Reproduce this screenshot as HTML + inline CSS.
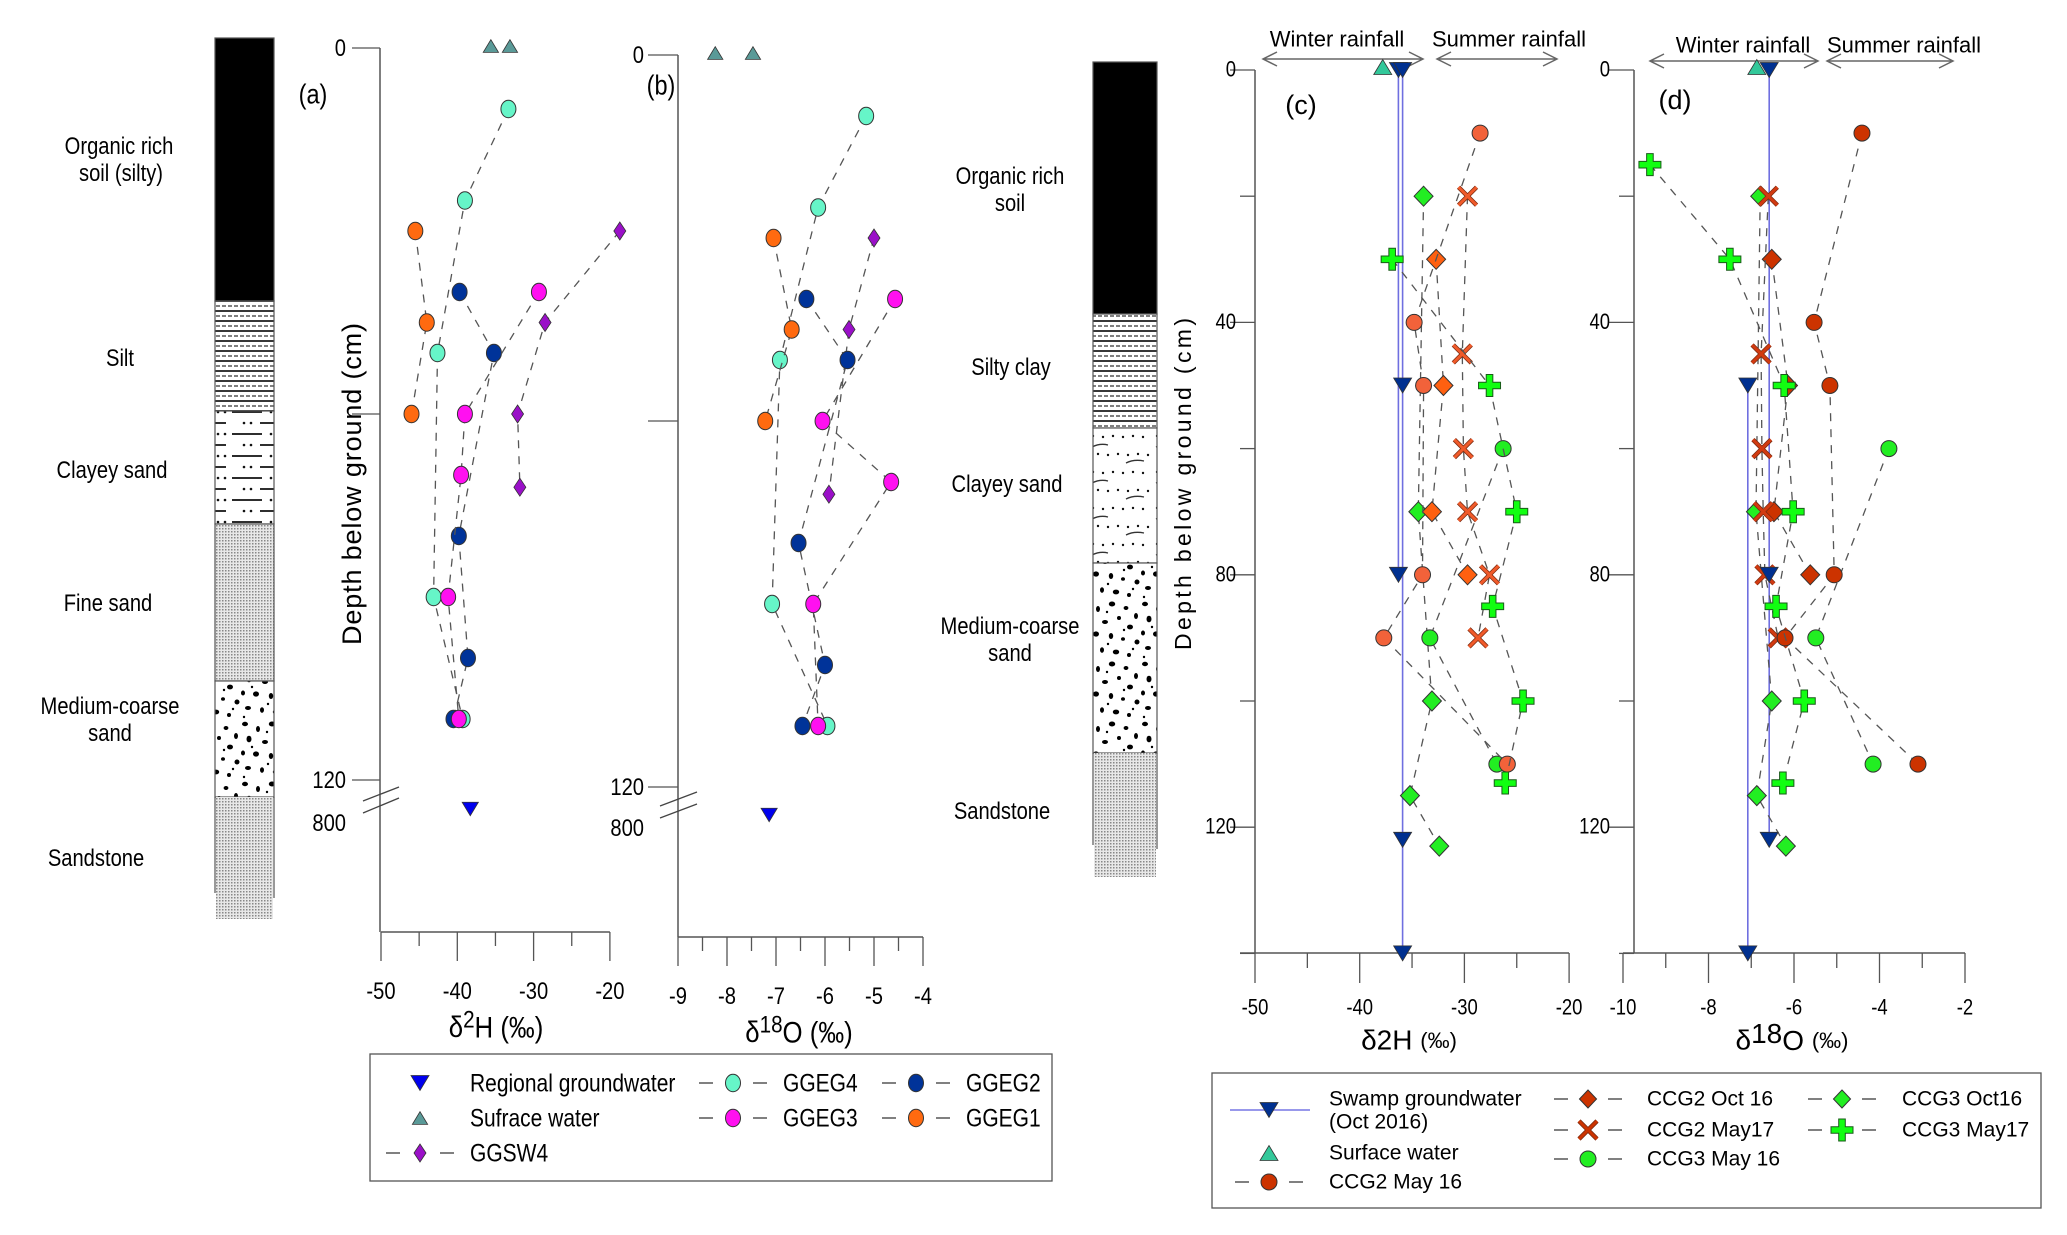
<!DOCTYPE html>
<html><head><meta charset="utf-8">
<style>
html,body{margin:0;padding:0;background:#fff;}
svg{display:block;}
.nar{font-family:"Liberation Sans Narrow","Liberation Sans",sans-serif;}
.reg{font-family:"Liberation Sans",sans-serif;}
</style></head>
<body>
<svg id="chart" xmlns="http://www.w3.org/2000/svg" width="2067" height="1235" viewBox="0 0 2067 1235">
<defs>
<pattern id="pSilt" width="12" height="10" patternUnits="userSpaceOnUse">
<rect width="12" height="10" fill="#fff"/>
<line x1="0" y1="1" x2="12" y2="1" stroke="#222" stroke-width="1.8"/>
<line x1="0" y1="6" x2="12" y2="6" stroke="#333" stroke-width="1.2" stroke-dasharray="4 2"/>
</pattern>
<pattern id="pClayA" width="60" height="22" patternUnits="userSpaceOnUse">
<rect width="60" height="22" fill="#fff"/>
<circle cx="4" cy="5" r="1.3" fill="#111"/><circle cx="11" cy="5" r="1.3" fill="#111"/>
<line x1="20" y1="5" x2="46" y2="5" stroke="#111" stroke-width="1.8"/>
<line x1="0" y1="16" x2="22" y2="16" stroke="#111" stroke-width="1.8"/>
<circle cx="31" cy="16" r="1.3" fill="#111"/><circle cx="38" cy="16" r="1.3" fill="#111"/><circle cx="45" cy="16" r="1.3" fill="#111"/>
<line x1="52" y1="16" x2="60" y2="16" stroke="#111" stroke-width="1.8"/>
</pattern>
<pattern id="pClayM" width="64" height="36" patternUnits="userSpaceOnUse">
<rect width="64" height="36" fill="#fff"/>
<g fill="#111"><circle cx="5" cy="4" r="1.2"/><circle cx="15" cy="5" r="1.2"/><circle cx="25" cy="4" r="1.2"/><circle cx="35" cy="5" r="1.2"/><circle cx="45" cy="4" r="1.2"/><circle cx="55" cy="5" r="1.2"/>
<circle cx="10" cy="22" r="1.2"/><circle cx="20" cy="23" r="1.2"/><circle cx="30" cy="22" r="1.2"/><circle cx="40" cy="23" r="1.2"/><circle cx="50" cy="22" r="1.2"/><circle cx="60" cy="23" r="1.2"/></g>
<path d="M4 15 Q12 11 20 13" stroke="#333" fill="none" stroke-width="1.3"/>
<path d="M38 31 Q46 27 56 29" stroke="#333" fill="none" stroke-width="1.3"/>
</pattern>
<pattern id="pGrey" width="3" height="3" patternUnits="userSpaceOnUse">
<rect width="3" height="3" fill="#e8e8e8"/><rect width="1.5" height="1.5" fill="#888"/>
</pattern>
<pattern id="pCoarse" width="60" height="60" patternUnits="userSpaceOnUse">
<rect width="60" height="60" fill="#fff"/>
<g fill="#000">
<ellipse cx="5" cy="4" rx="3" ry="2.2"/><ellipse cx="18" cy="9" rx="2" ry="3"/><ellipse cx="32" cy="4" rx="3.2" ry="2.5"/><ellipse cx="46" cy="8" rx="2.4" ry="2"/><ellipse cx="56" cy="16" rx="2" ry="3"/>
<ellipse cx="9" cy="19" rx="2.5" ry="3.3"/><ellipse cx="25" cy="22" rx="3" ry="2"/><ellipse cx="39" cy="18" rx="2" ry="2"/><ellipse cx="50" cy="27" rx="3" ry="2.4"/>
<ellipse cx="3" cy="33" rx="2" ry="2.5"/><ellipse cx="16" cy="34" rx="3" ry="2.6"/><ellipse cx="31" cy="36" rx="2.2" ry="3"/><ellipse cx="43" cy="39" rx="2" ry="1.8"/><ellipse cx="57" cy="42" rx="2.5" ry="2.5"/>
<ellipse cx="8" cy="48" rx="3" ry="2"/><ellipse cx="22" cy="50" rx="2" ry="2.8"/><ellipse cx="36" cy="52" rx="3.2" ry="2.4"/><ellipse cx="49" cy="55" rx="2" ry="2"/>
<circle cx="27" cy="12" r="1.2"/><circle cx="12" cy="27" r="1.2"/><circle cx="44" cy="30" r="1.2"/><circle cx="53" cy="49" r="1.2"/><circle cx="28" cy="44" r="1.2"/><circle cx="4" cy="57" r="1.2"/>
</g>
</pattern>
</defs>
</svg>
<script>
// ---------- panel (a)/(b) data: GGEG/GGSW profiles ----------
const depthGGEG4 = [10, 25, 50, 90, 110];
const hGGEG4 = [-33.3, -39.0, -42.6, -43.1, -39.3];
const oGGEG4 = [-5.16, -6.14, -6.92, -7.08, -5.95];
const depthGGEG1 = [30, 45, 60];
const hGGEG1 = [-45.5, -44.0, -46.0];
const oGGEG1 = [-7.05, -6.68, -7.22];
const depthGGEG2 = [40, 50, 80, 100, 110];
const hGGEG2 = [-39.7, -35.2, -39.8, -38.6, -40.5];
const oGGEG2 = [-6.38, -5.54, -6.54, -6.0, -6.46];
const depthGGEG3 = [40, 60, 70, 90, 110];
const hGGEG3 = [-29.3, -39.0, -39.5, -41.2, -39.8];
const oGGEG3 = [-4.57, -6.05, -4.65, -6.24, -6.14];
const depthGGSW4H = [30, 45, 60, 72];
const hGGSW4 = [-18.7, -28.5, -32.1, -31.8];
const depthGGSW4O = [30, 45, 72];
const oGGSW4 = [-5.0, -5.51, -5.92];
const surfH_ab = [-35.6, -33.1];
const surfO_ab = [-8.24, -7.47];
const regionalH = [-38.3];
const regionalO = [-7.14];
const ticksA = [-50, -40, -30, -20];
const ticksB = [-9, -8, -7, -6, -5, -4];

// ---------- panel (c)/(d) data: CCG profiles ----------
const depthCCG2May16 = [10, 40, 50, 80, 90, 110];
const hCCG2May16 = [-28.5, -34.8, -33.9, -34.0, -37.7, -25.9];
const oCCG2May16 = [-4.41, -5.53, -5.16, -5.06, -6.21, -3.10];
const depthCCG2Oct16 = [30, 50, 70, 80];
const hCCG2Oct16 = [-32.7, -32.0, -33.1, -29.7];
const oCCG2Oct16 = [-6.52, -6.14, -6.47, -5.62];
const depthCCG2May17 = [20, 45, 60, 70, 80, 90];
const hCCG2May17 = [-29.7, -30.2, -30.1, -29.7, -27.6, -28.7];
const oCCG2May17 = [-6.60, -6.77, -6.75, -6.72, -6.68, -6.37];
const depthCCG3May16 = [60, 90, 110];
const hCCG3May16 = [-26.3, -33.3, -26.9];
const oCCG3May16 = [-3.78, -5.49, -4.15];
const depthCCG3Oct16 = [20, 70, 100, 115, 123];
const hCCG3Oct16 = [-33.9, -34.4, -33.1, -35.2, -32.4];
const oCCG3Oct16 = [-6.79, -6.89, -6.52, -6.87, -6.19];
const depthCCG3May17H = [30, 50, 70, 85, 100, 113];
const hCCG3May17 = [-36.9, -27.6, -25.0, -27.3, -24.4, -26.1];
const depthCCG3May17O = [15, 30, 50, 70, 85, 100, 113];
const oCCG3May17 = [-9.37, -7.50, -6.23, -6.02, -6.42, -5.76, -6.26];
const surfH_c = [-37.8];
const surfO_d = [-6.87];
const swampDepthC1 = [0, 80];
const swampC1 = [-36.3, -36.3];
const swampDepthC2 = [0, 50, 122, 140];
const swampC2 = [-35.9, -35.9, -35.9, -35.9];
const swampDepthD1 = [0, 80, 122];
const swampD1 = [-6.58, -6.58, -6.58];
const swampDepthD2 = [50, 140];
const swampD2 = [-7.08, -7.08];
const ticksC = [-50, -40, -30, -20];
const ticksD = [-10, -8, -6, -4, -2];
const depthTicksCD = [0, 40, 80, 120];

const NS = 'http://www.w3.org/2000/svg';
const svg = document.getElementById('chart');
function mk(tag, attrs, parent, name, inter) {
  const e = document.createElementNS(NS, tag);
  for (const k in attrs) e.setAttribute(k, attrs[k]);
  
  
  (parent || svg).appendChild(e);
  return e;
}
function txt(x, y, s, size, cls, name, anchor, parent, extra) {
  const a = {x: x, y: y, 'font-size': size, class: cls, 'text-anchor': anchor || 'middle', 'dominant-baseline': 'central', fill: '#000'};
  if (cls === 'nar') { a.x = 0; a.y = 0; a.transform = `translate(${x} ${y}) scale(0.84 1)`; }
  if (extra) for (const k in extra) a[k] = extra[k];
  const t = mk('text', a, parent, name);
  t.textContent = s;
  return t;
}

// scales
const panels = {
  a: {X: v => 381 + (v + 50) * 7.63, Y: d => 48 + d * 6.1},
  b: {X: v => 678 + (v + 9) * 49, Y: d => 55 + d * 6.1},
  c: {X: v => 1255 + (v + 50) * 10.47, Y: d => 70 + d * 6.31},
  d: {X: v => 1623 + (v + 10) * 42.75, Y: d => 70 + d * 6.31}
};
panels.a.Y800 = 809; panels.b.Y800 = 815;

function marker(g, shape, x, y, fill, name, s) {
  s = s || 1;
  const st = '#333';
  if (shape === 'circle') return mk('ellipse', {cx: x, cy: y, rx: 8 * s, ry: 8 * s, fill: fill, stroke: st, 'stroke-width': 1}, g, name);
  if (shape === 'ell') return mk('ellipse', {cx: x, cy: y, rx: 7.5, ry: 8.7, fill: fill, stroke: st, 'stroke-width': 1}, g, name);
  if (shape === 'diamond') { const r = 10 * s; return mk('polygon', {points: `${x},${y-r} ${x+r*0.95},${y} ${x},${y+r} ${x-r*0.95},${y}`, fill: fill, stroke: st, 'stroke-width': 1}, g, name); }
  if (shape === 'sdiamond') { return mk('polygon', {points: `${x},${y-9} ${x+6},${y} ${x},${y+9} ${x-6},${y}`, fill: fill, stroke: st, 'stroke-width': 0.8}, g, name); }
  if (shape === 'tdown') { const w = 9 * s, h = 15 * s; return mk('polygon', {points: `${x-w},${y-h/2} ${x+w},${y-h/2} ${x},${y+h/2}`, fill: fill, stroke: st, 'stroke-width': 0.8}, g, name); }
  if (shape === 'tup') { const w = 9 * s, h = 15 * s; return mk('polygon', {points: `${x-w},${y+h/2} ${x+w},${y+h/2} ${x},${y-h/2}`, fill: fill, stroke: st, 'stroke-width': 0.8}, g, name); }
  if (shape === 'x') {
    const gg = mk('g', {}, g, name);
    const r = 9 * s;
    mk('path', {d: `M${x-r},${y-r}L${x+r},${y+r}M${x-r},${y+r}L${x+r},${y-r}`, stroke: '#7a2a10', 'stroke-width': 4.5, fill: 'none'}, gg, 'x-outline');
    mk('path', {d: `M${x-r},${y-r}L${x+r},${y+r}M${x-r},${y+r}L${x+r},${y-r}`, stroke: fill, 'stroke-width': 3, fill: 'none'}, gg, 'x-stroke');
    return gg;
  }
  if (shape === 'plus') {
    const a = 11 * s, w = 3.3 * s;
    return mk('polygon', {points: `${x-w},${y-a} ${x+w},${y-a} ${x+w},${y-w} ${x+a},${y-w} ${x+a},${y+w} ${x+w},${y+w} ${x+w},${y+a} ${x-w},${y+a} ${x-w},${y+w} ${x-a},${y+w} ${x-a},${y-w} ${x-w},${y-w}`, fill: fill, stroke: '#1a5a1a', 'stroke-width': 1}, g, name);
  }
}
function series(p, depths, vals, shape, fill, name, dashed, markerScale) {
  const P = panels[p];
  const g = mk('g', {}, svg, name);
  if (dashed !== false && depths.length > 1) {
    const pts = depths.map((d, i) => `${P.X(vals[i]).toFixed(1)},${P.Y(d).toFixed(1)}`).join(' ');
    mk('polyline', {points: pts, fill: 'none', stroke: '#555', 'stroke-width': 1.3, 'stroke-dasharray': '8 8'}, g, name + '-line');
  }
  depths.forEach((d, i) => marker(g, shape, P.X(vals[i]), P.Y(d), fill, name + '-point', markerScale));
  return g;
}
function swampLine(p, depths, vals, name) {
  const P = panels[p];
  const pts = depths.map((d, i) => `${P.X(vals[i]).toFixed(1)},${P.Y(d).toFixed(1)}`).join(' ');
  mk('polyline', {points: pts, fill: 'none', stroke: '#6f6fe0', 'stroke-width': 1.6}, svg, name);
}

// ---------- strat columns ----------
function layer(x, y1, w, y2, fill, name) {
  mk('rect', {x: x, y: y1, width: w, height: y2 - y1, fill: fill, stroke: '#555', 'stroke-width': 1.2}, svg, name);
}
layer(215, 38, 59, 301, '#000', 'strat-a-organic-soil');
layer(215, 301, 59, 411, 'url(#pSilt)', 'strat-a-silt');
layer(215, 411, 59, 524, 'url(#pClayA)', 'strat-a-clayey-sand');
layer(215, 524, 59, 681, 'url(#pGrey)', 'strat-a-fine-sand');
layer(215, 681, 59, 797, 'url(#pCoarse)', 'strat-a-medium-coarse-sand');
mk('rect', {x: 216, y: 797, width: 57, height: 122, fill: 'url(#pGrey)'}, svg, 'strat-a-sandstone');
mk('line', {x1: 215, y1: 797, x2: 215, y2: 893, stroke: '#555', 'stroke-width': 1.2}, svg, 'strat-a-sandstone-edge');
mk('line', {x1: 274, y1: 797, x2: 274, y2: 898, stroke: '#555', 'stroke-width': 1.2}, svg, 'strat-a-sandstone-edge');

layer(1093, 62, 64, 314, '#000', 'strat-c-organic-soil');
layer(1093, 314, 64, 428, 'url(#pSilt)', 'strat-c-silty-clay');
layer(1093, 428, 64, 563, 'url(#pClayM)', 'strat-c-clayey-sand');
layer(1093, 563, 64, 753, 'url(#pCoarse)', 'strat-c-medium-coarse-sand');
mk('rect', {x: 1094, y: 753, width: 62, height: 124, fill: 'url(#pGrey)'}, svg, 'strat-c-sandstone');
mk('line', {x1: 1093, y1: 753, x2: 1093, y2: 845, stroke: '#555', 'stroke-width': 1.2}, svg, 'strat-c-sandstone-edge');
mk('line', {x1: 1157, y1: 753, x2: 1157, y2: 849, stroke: '#555', 'stroke-width': 1.2}, svg, 'strat-c-sandstone-edge');

const sl = 24;
txt(119, 146, 'Organic rich', sl, 'nar', 'strat-label-organic');
txt(121, 173, 'soil (silty)', sl, 'nar', 'strat-label-organic');
txt(120, 358, 'Silt', sl, 'nar', 'strat-label-silt');
txt(112, 470, 'Clayey sand', sl, 'nar', 'strat-label-clayey-sand');
txt(108, 603, 'Fine sand', sl, 'nar', 'strat-label-fine-sand');
txt(110, 706, 'Medium-coarse', sl, 'nar', 'strat-label-medium-coarse');
txt(110, 733, 'sand', sl, 'nar', 'strat-label-medium-coarse');
txt(96, 858, 'Sandstone', sl, 'nar', 'strat-label-sandstone');
txt(1010, 176, 'Organic rich', sl, 'nar', 'strat-label-organic-c');
txt(1010, 203, 'soil', sl, 'nar', 'strat-label-organic-c');
txt(1011, 367, 'Silty clay', sl, 'nar', 'strat-label-silty-clay-c');
txt(1007, 484, 'Clayey sand', sl, 'nar', 'strat-label-clayey-sand-c');
txt(1010, 626, 'Medium-coarse', sl, 'nar', 'strat-label-medium-coarse-c');
txt(1010, 653, 'sand', sl, 'nar', 'strat-label-medium-coarse-c');
txt(1002, 811, 'Sandstone', sl, 'nar', 'strat-label-sandstone-c');

// ---------- axes (a),(b) ----------
const AX = '#555';
function axesAB(p, ax, yTop, xAxisY, ticks, minorStep, lblX, tickL, y120, y800, brk, title, titleX, name) {
  const P = panels[p];
  const g = mk('g', {}, svg, name);
  mk('line', {x1: ax, y1: yTop, x2: ax, y2: xAxisY, stroke: AX, 'stroke-width': 1.5}, g, 'y-axis-line');
  [0, 60, 120].forEach(d => mk('line', {x1: tickL, y1: P.Y(d), x2: ax, y2: P.Y(d), stroke: AX, 'stroke-width': 1.3}, g, 'y-tick'));
  txt(lblX, P.Y(0), '0', 24, 'nar', 'y-tick-label', 'end', g);
  txt(lblX, P.Y(120), '120', 24, 'nar', 'y-tick-label', 'end', g);
  txt(lblX, y800, '800', 24, 'nar', 'y-tick-label', 'end', g);
  brk.forEach(b => mk('line', {x1: b[0], y1: b[1], x2: b[2], y2: b[3], stroke: '#444', 'stroke-width': 1.3}, g, 'axis-break'));
  const x0 = P.X(ticks[0]), x1 = P.X(ticks[ticks.length - 1]);
  mk('line', {x1: x0, y1: xAxisY, x2: x1, y2: xAxisY, stroke: AX, 'stroke-width': 1.5}, g, 'x-axis-line');
  for (let v = ticks[0]; v <= ticks[ticks.length - 1] + 1e-6; v += minorStep) {
    const major = ticks.some(t => Math.abs(t - v) < 1e-6);
    mk('line', {x1: P.X(v), y1: xAxisY, x2: P.X(v), y2: xAxisY + (major ? 29 : 14), stroke: AX, 'stroke-width': 1.3}, g, 'x-tick');
  }
  ticks.forEach(t => txt(P.X(t), xAxisY + 59, String(t), 24, 'nar', 'x-tick-label', 'middle', g));
  const tt = mk('text', {x: 0, y: 0, transform: `translate(${titleX} ${xAxisY + 95}) scale(0.86 1)`, 'font-size': 30, class: 'nar', 'text-anchor': 'middle', 'dominant-baseline': 'central'}, g, 'x-axis-title');
  tt.innerHTML = title;
}
axesAB('a', 380, 48, 932, ticksA, 5, 346, 352, 781, 823, [[363, 801, 399, 787], [363, 813, 399, 798]],
  'δ<tspan dy="-8" font-size="24">2</tspan><tspan dy="8">H (‰)</tspan>', 496, 'panel-a-axes');
axesAB('b', 678, 55, 937, ticksB, 0.5, 644, 648, 786, 828, [[660, 806, 697, 792], [660, 818, 697, 804]],
  'δ<tspan dy="-8" font-size="24">18</tspan><tspan dy="8">O (‰)</tspan>', 799, 'panel-b-axes');
txt(313, 95, '(a)', 28, 'nar', 'panel-a-label');
txt(661, 86, '(b)', 28, 'nar', 'panel-b-label');
txt(352, 484, 'Depth below ground (cm)', 27, 'reg', 'y-axis-title-a', 'middle', svg, {transform: 'rotate(-90 352 484)', textLength: 322});

// ---------- axes (c),(d) ----------
function axesCD(p, ax, xs, xe, ticks, minorStep, lblX, name, title, titleX) {
  const P = panels[p];
  const g = mk('g', {}, svg, name);
  const yB = 953;
  mk('line', {x1: ax, y1: P.Y(0), x2: ax, y2: yB, stroke: AX, 'stroke-width': 1.5}, g, 'y-axis-line');
  for (let d = 0; d <= 140; d += 20) {
    const major = d % 40 === 0;
    mk('line', {x1: ax - (major ? 25 : 15), y1: P.Y(d), x2: ax, y2: P.Y(d), stroke: AX, 'stroke-width': 1.3}, g, 'y-tick');
  }
  depthTicksCD.forEach(d => txt(lblX, P.Y(d), String(d), 22, 'nar', 'y-tick-label', 'end', g));
  mk('line', {x1: xs, y1: yB, x2: xe, y2: yB, stroke: AX, 'stroke-width': 1.5}, g, 'x-axis-line');
  for (let v = ticks[0]; v <= ticks[ticks.length - 1] + 1e-6; v += minorStep) {
    const major = ticks.some(t => Math.abs(t - v) < 1e-6);
    mk('line', {x1: P.X(v), y1: yB, x2: P.X(v), y2: yB + (major ? 30 : 15), stroke: AX, 'stroke-width': 1.3}, g, 'x-tick');
  }
  ticks.forEach(t => txt(P.X(t), 1008, String(t), 22, 'nar', 'x-tick-label', 'middle', g));
  const tt = mk('text', {x: titleX, y: 1040, 'font-size': 28, class: 'reg', 'text-anchor': 'middle', 'dominant-baseline': 'central'}, g, 'x-axis-title');
  tt.innerHTML = title;
}
axesCD('c', 1255, 1240, 1569, ticksC, 5, 1236, 'panel-c-axes', 'δ2H <tspan font-size="22">(‰)</tspan>', 1409);
axesCD('d', 1634, 1623, 1965, ticksD, 1, 1610, 'panel-d-axes', 'δ<tspan dy="-7">18</tspan><tspan dy="7">O </tspan><tspan font-size="22">(‰)</tspan>', 1792);
txt(1301, 105, '(c)', 27, 'reg', 'panel-c-label');
txt(1675, 100, '(d)', 27, 'reg', 'panel-d-label');
txt(1183, 484, 'Depth below ground (cm)', 23, 'reg', 'y-axis-title-c', 'middle', svg, {transform: 'rotate(-90 1183 484)', textLength: 332});

// rainfall arrows
function dArrow(x1, x2, y, name) {
  const g = mk('g', {}, svg, name);
  mk('path', {d: `M${x1},${y}L${x2},${y}M${x1+14},${y-7}L${x1},${y}L${x1+14},${y+7}M${x2-14},${y-7}L${x2},${y}L${x2-14},${y+7}`, stroke: '#666', 'stroke-width': 1.5, fill: 'none'}, g, 'arrow-path');
}
dArrow(1263, 1423, 59, 'winter-arrow-c');
dArrow(1437, 1557, 59, 'summer-arrow-c');
dArrow(1650, 1818, 61, 'winter-arrow-d');
dArrow(1827, 1953, 61, 'summer-arrow-d');
txt(1337, 39, 'Winter rainfall', 22, 'reg', 'winter-rainfall-label-c');
txt(1509, 39, 'Summer rainfall', 22, 'reg', 'summer-rainfall-label-c');
txt(1743, 45, 'Winter rainfall', 22, 'reg', 'winter-rainfall-label-d');
txt(1904, 45, 'Summer rainfall', 22, 'reg', 'summer-rainfall-label-d');

// ---------- series (a),(b) ----------
const C_G4 = '#66f5c8', C_G1 = '#ff6a10', C_G2 = '#003399', C_G3 = '#ff10f0', C_SW = '#9a10c8';
series('a', depthGGSW4H, hGGSW4, 'sdiamond', C_SW, 'series-a-ggsw4');
series('a', depthGGEG4, hGGEG4, 'ell', C_G4, 'series-a-ggeg4');
series('a', depthGGEG1, hGGEG1, 'ell', C_G1, 'series-a-ggeg1');
series('a', depthGGEG2, hGGEG2, 'ell', C_G2, 'series-a-ggeg2');
series('a', depthGGEG3, hGGEG3, 'ell', C_G3, 'series-a-ggeg3');
surfH_ab.forEach(v => marker(svg, 'tup', panels.a.X(v), panels.a.Y(0) - 2, '#5a9a98', 'surface-water-a', 0.85));
regionalH.forEach(v => marker(svg, 'tdown', panels.a.X(v), panels.a.Y800, '#0000ee', 'regional-groundwater-a', 0.9));

series('b', depthGGSW4O, oGGSW4, 'sdiamond', C_SW, 'series-b-ggsw4');
series('b', depthGGEG4, oGGEG4, 'ell', C_G4, 'series-b-ggeg4');
series('b', depthGGEG1, oGGEG1, 'ell', C_G1, 'series-b-ggeg1');
series('b', depthGGEG2, oGGEG2, 'ell', C_G2, 'series-b-ggeg2');
series('b', depthGGEG3, oGGEG3, 'ell', C_G3, 'series-b-ggeg3');
surfO_ab.forEach(v => marker(svg, 'tup', panels.b.X(v), panels.b.Y(0) - 2, '#5a9a98', 'surface-water-b', 0.85));
regionalO.forEach(v => marker(svg, 'tdown', panels.b.X(v), panels.b.Y800, '#0000ee', 'regional-groundwater-b', 0.9));

// ---------- series (c),(d) ----------
const GREEN = '#22ee22', PLUS = '#11ff11';
swampLine('c', swampDepthC1, swampC1, 'swamp-line-c1');
swampLine('c', swampDepthC2, swampC2, 'swamp-line-c2');
series('c', depthCCG3Oct16, hCCG3Oct16, 'diamond', GREEN, 'series-c-ccg3-oct16');
series('c', depthCCG2Oct16, hCCG2Oct16, 'diamond', '#ff6010', 'series-c-ccg2-oct16');
series('c', depthCCG2May17, hCCG2May17, 'x', '#f05a2a', 'series-c-ccg2-may17');
series('c', depthCCG3May16, hCCG3May16, 'circle', GREEN, 'series-c-ccg3-may16');
series('c', depthCCG2May16, hCCG2May16, 'circle', '#f2623a', 'series-c-ccg2-may16');
series('c', depthCCG3May17H, hCCG3May17, 'plus', PLUS, 'series-c-ccg3-may17');
surfH_c.forEach(v => marker(svg, 'tup', panels.c.X(v), panels.c.Y(0) - 3, '#33c89a', 'surface-water-c'));
swampDepthC1.forEach((d, i) => marker(svg, 'tdown', panels.c.X(swampC1[i]), panels.c.Y(d), '#003090', 'swamp-groundwater-c'));
swampDepthC2.forEach((d, i) => marker(svg, 'tdown', panels.c.X(swampC2[i]), panels.c.Y(d), '#003090', 'swamp-groundwater-c'));

swampLine('d', swampDepthD1, swampD1, 'swamp-line-d1');
swampLine('d', swampDepthD2, swampD2, 'swamp-line-d2');
series('d', depthCCG3Oct16, oCCG3Oct16, 'diamond', GREEN, 'series-d-ccg3-oct16');
series('d', depthCCG2Oct16, oCCG2Oct16, 'diamond', '#cc3300', 'series-d-ccg2-oct16');
series('d', depthCCG2May17, oCCG2May17, 'x', '#d23a10', 'series-d-ccg2-may17');
series('d', depthCCG3May16, oCCG3May16, 'circle', GREEN, 'series-d-ccg3-may16');
series('d', depthCCG2May16, oCCG2May16, 'circle', '#cc3300', 'series-d-ccg2-may16');
series('d', depthCCG3May17O, oCCG3May17, 'plus', PLUS, 'series-d-ccg3-may17');
surfO_d.forEach(v => marker(svg, 'tup', panels.d.X(v), panels.d.Y(0) - 3, '#33c89a', 'surface-water-d'));
swampDepthD1.forEach((d, i) => marker(svg, 'tdown', panels.d.X(swampD1[i]), panels.d.Y(d), '#003090', 'swamp-groundwater-d'));
swampDepthD2.forEach((d, i) => marker(svg, 'tdown', panels.d.X(swampD2[i]), panels.d.Y(d), '#003090', 'swamp-groundwater-d'));

// ---------- legends ----------
function legEntry(g, mx, y, shape, fill, label, tx, dashed, cls, size, name, ms) {
  const e = mk('g', {}, g, name);
  if (dashed) {
    mk('line', {x1: mx - 34, y1: y, x2: mx - 20, y2: y, stroke: '#555', 'stroke-width': 1.5}, e, 'legend-dash');
    mk('line', {x1: mx + 20, y1: y, x2: mx + 34, y2: y, stroke: '#555', 'stroke-width': 1.5}, e, 'legend-dash');
  }
  marker(e, shape, mx, y, fill, 'legend-marker', ms);
  if (label) txt(tx, y, label, size, cls, 'legend-label', 'start', e);
}
const L1 = mk('g', {}, svg, 'legend-left');
mk('rect', {x: 370, y: 1054, width: 682, height: 127, fill: '#fff', stroke: '#555', 'stroke-width': 1.3}, L1, 'legend-left-box');
legEntry(L1, 420, 1083, 'tdown', '#0000ee', 'Regional groundwater', 470, false, 'nar', 25, 'legend-regional-groundwater');
legEntry(L1, 420, 1118, 'tup', '#5a9a98', 'Sufrace water', 470, false, 'nar', 25, 'legend-surface-water', 0.85);
legEntry(L1, 420, 1153, 'sdiamond', C_SW, 'GGSW4', 470, true, 'nar', 25, 'legend-ggsw4');
legEntry(L1, 733, 1083, 'ell', C_G4, 'GGEG4', 783, true, 'nar', 25, 'legend-ggeg4');
legEntry(L1, 733, 1118, 'ell', C_G3, 'GGEG3', 783, true, 'nar', 25, 'legend-ggeg3');
legEntry(L1, 916, 1083, 'ell', C_G2, 'GGEG2', 966, true, 'nar', 25, 'legend-ggeg2');
legEntry(L1, 916, 1118, 'ell', C_G1, 'GGEG1', 966, true, 'nar', 25, 'legend-ggeg1');

const L2 = mk('g', {}, svg, 'legend-right');
mk('rect', {x: 1212, y: 1073, width: 829, height: 135, fill: '#fff', stroke: '#555', 'stroke-width': 1.3}, L2, 'legend-right-box');
mk('line', {x1: 1230, y1: 1110, x2: 1310, y2: 1110, stroke: '#8a8ae8', 'stroke-width': 1.8}, L2, 'legend-swamp-line');
legEntry(L2, 1269, 1110, 'tdown', '#003090', '', 1329, false, 'reg', 21, 'legend-swamp-groundwater');
txt(1329, 1099, 'Swamp groundwater', 21, 'reg', 'legend-label', 'start', L2);
txt(1329, 1122, '(Oct 2016)', 21, 'reg', 'legend-label', 'start', L2);
legEntry(L2, 1269, 1153, 'tup', '#33c89a', 'Surface water', 1329, false, 'reg', 21, 'legend-surface-water-c');
legEntry(L2, 1269, 1182, 'circle', '#cc3300', 'CCG2 May 16', 1329, true, 'reg', 21, 'legend-ccg2-may16');
legEntry(L2, 1588, 1099, 'diamond', '#cc3300', 'CCG2 Oct 16', 1647, true, 'reg', 21, 'legend-ccg2-oct16', 0.9);
legEntry(L2, 1588, 1130, 'x', '#cc3300', 'CCG2 May17', 1647, true, 'reg', 21, 'legend-ccg2-may17');
legEntry(L2, 1588, 1159, 'circle', GREEN, 'CCG3 May 16', 1647, true, 'reg', 21, 'legend-ccg3-may16');
legEntry(L2, 1842, 1099, 'diamond', GREEN, 'CCG3 Oct16', 1902, true, 'reg', 21, 'legend-ccg3-oct16', 0.9);
legEntry(L2, 1842, 1130, 'plus', PLUS, 'CCG3 May17', 1902, true, 'reg', 21, 'legend-ccg3-may17');
</script>
</body></html>
